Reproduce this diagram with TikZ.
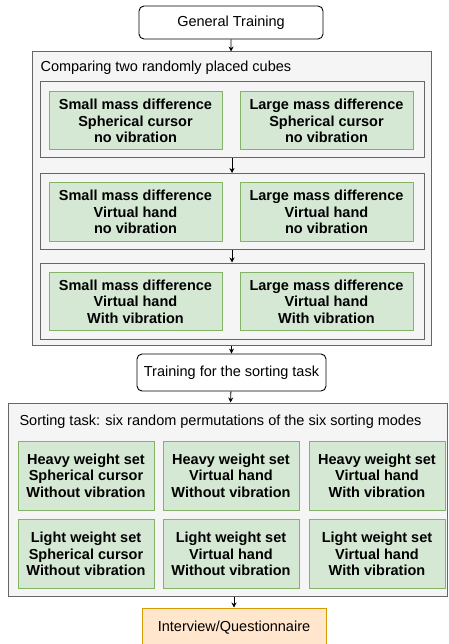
\documentclass[tikz,border=0pt]{standalone}
\usepackage{fontspec}
\setmainfont{Liberation Sans}
\usetikzlibrary{arrows.meta}
\definecolor{grpfill}{HTML}{F5F5F5}
\definecolor{grpline}{HTML}{666666}
\definecolor{modefill}{HTML}{D5E8D4}
\definecolor{modeline}{HTML}{82B366}
\definecolor{endfill}{HTML}{FFE6CC}
\definecolor{endline}{HTML}{D79B00}
\newcommand{\figfont}{\fontsize{14.5}{16.5}\selectfont}
\tikzset{
  stagebox/.style={draw, rounded corners=5pt, fill=white, line width=0.9pt, minimum width=184pt, minimum height=33pt},
  groupbox/.style={draw=grpline, fill=grpfill, line width=1pt},
  modebox/.style={draw=modeline, fill=modefill, line width=1pt, align=center, font=\figfont\bfseries, minimum width=173pt, minimum height=58pt, inner sep=0pt},
  sortbox/.style={modebox, minimum width=136pt, minimum height=69pt},
  finalbox/.style={draw=endline, fill=endfill, line width=1pt, minimum width=184pt, minimum height=40pt},
  flow/.style={-{Stealth[length=5pt,width=5pt]}, line width=0.8pt}
}
\begin{document}
\begin{tikzpicture}[x=1pt,y=-1pt,font=\figfont]
\useasboundingbox (0,0) rectangle (448,644);
% first part
\node[stagebox] (general) at (231,22.5) {General Training};
\node[groupbox, minimum width=399pt, minimum height=293pt] (cubes) at (231.5,198.5) {};
\node[anchor=west] (cubestitle) at (37,68) {Comparing two randomly placed cubes};
\foreach \n/\y in {1/120,2/211.5,3/301}
  \node[groupbox, minimum width=384pt, minimum height=76pt] (pair\n) at (232,\y) {};
\node[modebox] (small1) at (135.5,121) {Small mass difference\\Spherical cursor\\no vibration};
\node[modebox] (large1) at (326.5,121) {Large mass difference\\Spherical cursor\\no vibration};
\node[modebox] (small2) at (135.5,212) {Small mass difference\\Virtual hand\\no vibration};
\node[modebox] (large2) at (326.5,212) {Large mass difference\\Virtual hand\\no vibration};
\node[modebox] (small3) at (135.5,301.5) {Small mass difference\\Virtual hand\\With vibration};
\node[modebox] (large3) at (326.5,301.5) {Large mass difference\\Virtual hand\\With vibration};
% second part
\node[stagebox, minimum width=189pt, minimum height=37pt] (training) at (231.5,372.5) {Training for the sorting task};
\node[groupbox, minimum width=439pt, minimum height=193pt] (sorting) at (227.5,499.5) {};
\node[anchor=west] (sortingtitle) at (16,422) {Sorting task: six random permutations of the six sorting modes};
\foreach \n/\x/\hand/\vib in {1/86/Spherical cursor/Without vibration,2/231/Virtual hand/Without vibration,3/377/Virtual hand/With vibration}{
  \node[sortbox] (heavy\n) at (\x,475.5) {Heavy weight set\\\hand\\\vib};
  \node[sortbox] (light\n) at (\x,554) {Light weight set\\\hand\\\vib};
}
\node[finalbox] (interview) at (234,628) {Interview/Questionnaire};
% arrows
\draw[flow] (general) -- (cubes);
\draw[flow] (pair1) -- (pair2);
\draw[flow] (pair2) -- (pair3);
\draw[flow] (cubes) -- (training);
\draw[flow] (training) -- (sorting);
\draw[flow] (sorting.south -| interview.north) -- (interview);
\end{tikzpicture}
\end{document}
